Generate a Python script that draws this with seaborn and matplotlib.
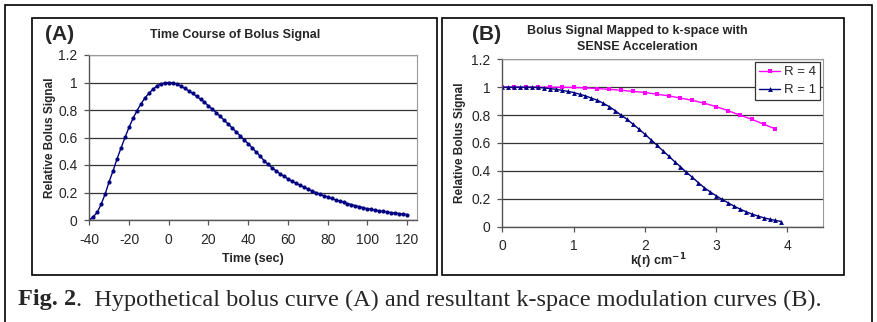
import numpy as np
import pandas as pd
import matplotlib
matplotlib.use("Agg")
import matplotlib.pyplot as plt
from matplotlib.patches import Rectangle
import seaborn as sns

# --- Data ---
time_sec = list(range(-40, 122, 2))
bolus = [0.0, 0.024, 0.056, 0.116, 0.19, 0.279, 0.359, 0.446, 0.524, 0.601,
         0.674, 0.739, 0.795, 0.844, 0.887, 0.921, 0.95, 0.975, 0.989, 0.997,
         1.0, 0.998, 0.99, 0.976, 0.958, 0.94, 0.921, 0.90, 0.878, 0.857,
         0.83, 0.805, 0.78, 0.753, 0.725, 0.697, 0.669, 0.64, 0.612, 0.584,
         0.555, 0.525, 0.495, 0.465, 0.432, 0.405, 0.38, 0.358, 0.337, 0.318,
         0.30, 0.283, 0.268, 0.254, 0.24, 0.226, 0.213, 0.2, 0.188, 0.177,
         0.167, 0.157, 0.147, 0.138, 0.129, 0.12, 0.112, 0.104, 0.097, 0.089,
         0.082, 0.077, 0.072, 0.067, 0.062, 0.058, 0.054, 0.05, 0.047, 0.043,
         0.04]

k_r1 = [i / 12 for i in range(48)]
sig_r1 = [1.0, 1.0, 1.0, 1.0, 1.0, 1.0, 0.998, 0.995, 0.99, 0.985,
          0.978, 0.97, 0.962, 0.95, 0.938, 0.922, 0.906, 0.885, 0.861, 0.832,
          0.80, 0.77, 0.735, 0.70, 0.663, 0.625, 0.586, 0.546, 0.507, 0.467,
          0.43, 0.39, 0.354, 0.316, 0.28, 0.25, 0.222, 0.196, 0.172, 0.148,
          0.127, 0.108, 0.091, 0.077, 0.064, 0.054, 0.045, 0.037]

k_r4 = [j / 6 for j in range(24)]
sig_r4 = [1.0, 1.0, 1.0, 1.0, 1.0, 1.0, 0.998, 0.995, 0.99, 0.985,
          0.978, 0.97, 0.962, 0.95, 0.938, 0.922, 0.906, 0.885, 0.861, 0.832,
          0.80, 0.77, 0.735, 0.70]

y_ticks = [0, 0.2, 0.4, 0.6, 0.8, 1, 1.2]
y_ticklabels = ["0", "0.2", "0.4", "0.6", "0.8", "1", "1.2"]

sns.set_style("white")
plt.rcParams['font.family'] = ['Liberation Sans', 'DejaVu Sans']
plt.rcParams['axes.unicode_minus'] = False

W, H = 877, 322
fig = plt.figure(figsize=(W / 100, H / 100), dpi=100)

def fx(px):
    return px / W

def fy(py):
    return 1 - py / H

# --- Frames ---
fig.patches.append(Rectangle((fx(5), fy(330)), fx(867), 325 / H, transform=fig.transFigure,
                             fill=False, edgecolor='black', linewidth=1.2))
fig.patches.append(Rectangle((fx(32), fy(275)), fx(405), 257 / H, transform=fig.transFigure,
                             fill=False, edgecolor='black', linewidth=1.2))
fig.patches.append(Rectangle((fx(442), fy(275)), fx(402), 257 / H, transform=fig.transFigure,
                             fill=False, edgecolor='black', linewidth=1.2))

navy = '#000080'
magenta = '#FF00FF'

def style_axes(ax):
    ax.set_ylim(0, 1.2)
    ax.set_yticks(y_ticks)
    ax.set_yticklabels(y_ticklabels)
    ax.yaxis.grid(True, color='#333333', linewidth=0.9)
    ax.set_axisbelow(True)
    for s in ['top', 'right']:
        ax.spines[s].set_color('#9a9a9a')
        ax.spines[s].set_linewidth(0.8)
    for s in ['left', 'bottom']:
        ax.spines[s].set_color('#555555')
        ax.spines[s].set_linewidth(1.0)
    ax.tick_params(axis='both', direction='out', length=3.5, width=0.9,
                   color='#555555', labelsize=10, left=True, bottom=True)
    ax.tick_params(axis='x', pad=6)
    ax.tick_params(axis='y', pad=5)
    ax.set_xlabel("")
    ax.set_ylabel("")

# --- Panel A ---
axA = fig.add_axes([fx(89.3), fy(220), fx(417 - 89.3), 165 / H])
dfA = pd.DataFrame({'time': time_sec, 'signal': bolus})
sns.lineplot(data=dfA, x='time', y='signal', ax=axA, color=navy, linewidth=1.0,
             marker='o', markersize=3, markeredgewidth=0, legend=False)
axA.set_xlim(-40, 125)
axA.set_xticks(list(range(-40, 121, 20)))
style_axes(axA)

fig.text(fx(45), fy(35), "(A)", fontsize=15, fontweight='bold', ha='left', va='center')
fig.text(fx(235), fy(35), "Time Course of Bolus Signal", fontsize=9,
         fontweight='bold', ha='center', va='center')
fig.text(fx(253), fy(259), "Time (sec)", fontsize=9, fontweight='bold',
         ha='center', va='center')
fig.text(fx(50), fy(138), "Relative Bolus Signal", fontsize=8.5, fontweight='bold',
         ha='center', va='center', rotation=90)

# --- Panel B ---
axB = fig.add_axes([fx(502.3), fy(226.7), fx(823 - 502.3), (226.7 - 59.3) / H])
dfB = pd.concat([
    pd.DataFrame({'k': k_r4, 'signal': sig_r4, 'series': 'R = 4'}),
    pd.DataFrame({'k': k_r1, 'signal': sig_r1, 'series': 'R = 1'}),
])
sns.lineplot(data=dfB, x='k', y='signal', hue='series', style='series',
             palette={'R = 4': magenta, 'R = 1': navy},
             markers={'R = 4': 's', 'R = 1': '^'}, dashes=False,
             markersize=3.5, markeredgewidth=0, linewidth=1.0, ax=axB)
axB.set_xlim(0, 4.5)
axB.set_xticks([0, 1, 2, 3, 4])
style_axes(axB)
axB.tick_params(axis='x', pad=5)
leg = axB.legend(loc='upper right', fontsize=9.5, frameon=True, fancybox=False,
                 edgecolor='#333333', framealpha=1, handlelength=1.6,
                 borderpad=0.3, labelspacing=0.45, handletextpad=0.3,
                 borderaxespad=0.2)
leg.get_frame().set_linewidth(0.9)

fig.text(fx(472), fy(35), "(B)", fontsize=15, fontweight='bold', ha='left', va='center')
fig.text(fx(637), fy(31), "Bolus Signal Mapped to k-space with", fontsize=9,
         fontweight='bold', ha='center', va='center')
fig.text(fx(637), fy(47), "SENSE Acceleration", fontsize=9,
         fontweight='bold', ha='center', va='center')
fig.text(fx(658), fy(265), r"k(r) cm$^{\mathbf{-1}}$", fontsize=9, fontweight='bold',
         ha='center', va='baseline')
fig.text(fx(460), fy(143), "Relative Bolus Signal", fontsize=8.5, fontweight='bold',
         ha='center', va='center', rotation=90)

# --- Caption ---
serif = ['Liberation Serif', 'DejaVu Serif']
t1 = fig.text(fx(18), fy(300), "Fig. 2", fontsize=17.5, fontweight='bold',
              family=serif, ha='left', va='center')
fig.canvas.draw()
bb = t1.get_window_extent(renderer=fig.canvas.get_renderer())
x_next = bb.x1 / fig.bbox.width
fig.text(x_next, fy(300), ".  Hypothetical bolus curve (A) and resultant k-space modulation curves (B).",
         fontsize=17.5, family=serif, ha='left', va='center')

fig.savefig("out.png", dpi=100)
